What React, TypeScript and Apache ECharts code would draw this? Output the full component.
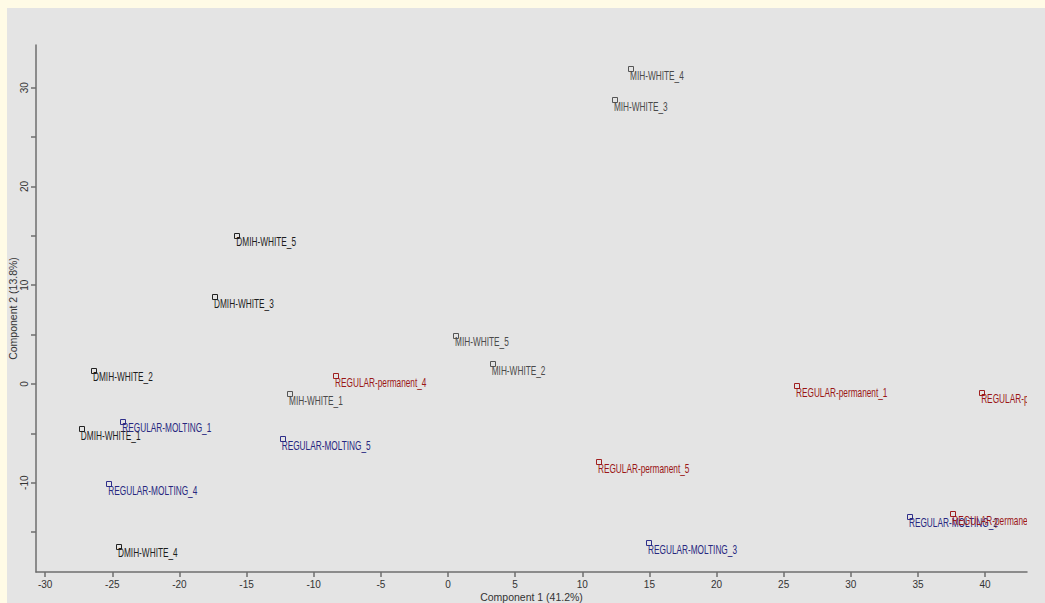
import React, { useEffect, useRef } from "react";
import * as echarts from "echarts";

// DMIH-WHITE samples
const dmihNames = ["DMIH-WHITE_1", "DMIH-WHITE_2", "DMIH-WHITE_3", "DMIH-WHITE_4", "DMIH-WHITE_5"];
const dmihX = [-27.27, -26.36, -17.35, -24.5, -15.69];
const dmihY = [-4.59, 1.35, 8.78, -16.47, 15.02];

// MIH-WHITE samples
const mihNames = ["MIH-WHITE_1", "MIH-WHITE_2", "MIH-WHITE_3", "MIH-WHITE_4", "MIH-WHITE_5"];
const mihX = [-11.76, 3.33, 12.43, 13.63, 0.6];
const mihY = [-1.05, 2.03, 28.76, 31.9, 4.89];

// REGULAR-MOLTING samples
const moltNames = ["REGULAR-MOLTING_1", "REGULAR-MOLTING_2", "REGULAR-MOLTING_3", "REGULAR-MOLTING_4", "REGULAR-MOLTING_5"];
const moltX = [-24.18, 34.4, 14.97, -25.22, -12.31];
const moltY = [-3.82, -13.43, -16.13, -10.16, -5.6];

// REGULAR-permanent samples
const permNames = ["REGULAR-permanent_1", "REGULAR-permanent_2", "REGULAR-permanent_3", "REGULAR-permanent_4", "REGULAR-permanent_5"];
const permX = [25.99, 39.78, 37.63, -8.34, 11.24];
const permY = [-0.2, -0.88, -13.2, 0.81, -7.9];

// Axes
const xTicks = [-30, -25, -20, -15, -10, -5, 0, 5, 10, 15, 20, 25, 30, 35, 40];
const yTicks = [-15, -10, -5, 0, 5, 10, 15, 20, 25, 30];
const yLabels = [-10, 0, 10, 20, 30];
const xTitle = "Component 1 (41.2%)";
const yTitle = "Component 2 (13.8%)";

const FONT = "'Liberation Sans', Arial, sans-serif";

function makeSeries(names: string[], xs: number[], ys: number[], markerColor: string, textColor: string) {
  return {
    type: "custom",
    clip: true,
    data: xs.map((x, i) => [x, ys[i]]),
    renderItem: (params: any, api: any) => {
      const p = api.coord([api.value(0), api.value(1)]);
      return {
        type: "group",
        children: [
          {
            type: "rect",
            shape: { x: Math.round(p[0]) - 2.5, y: Math.round(p[1]) - 2.5, width: 5, height: 5 },
            style: { fill: "none", stroke: markerColor, lineWidth: 1 },
          },
          {
            type: "text",
            x: p[0] - 1,
            y: p[1] + 6.5,
            scaleX: 0.69,
            style: {
              text: names[params.dataIndex],
              fontSize: 12,
              fontFamily: FONT,
              fill: textColor,
              align: "left",
              verticalAlign: "middle",
            },
          },
        ],
      };
    },
  };
}

export default function App() {
  const ref = useRef<HTMLDivElement>(null);
  useEffect(() => {
    if (!ref.current) return;
    const chart = echarts.init(ref.current, undefined, { renderer: "svg" });
    const axisColor = "#6e6e6e";
    chart.setOption({
      animation: false,
      backgroundColor: "#e4e4e4",
      grid: { left: 29, top: 37, right: 18, bottom: 31, containLabel: false, outerBoundsMode: "none" },
      xAxis: {
        type: "value",
        min: -30.68,
        max: 43.12,
        splitLine: { show: false },
        axisLine: { show: true, onZero: false, lineStyle: { color: axisColor, width: 1.5 } },
        axisTick: { show: true, length: 5, customValues: xTicks, lineStyle: { color: axisColor, width: 1.5 } },
        axisLabel: { customValues: xTicks, fontSize: 10, color: "#333", margin: 7, fontFamily: FONT },
        name: xTitle,
        nameLocation: "middle",
        nameGap: 19,
        nameMoveOverlap: false,
        nameTextStyle: { fontSize: 10.5, color: "#333", fontFamily: FONT },
      },
      yAxis: {
        type: "value",
        min: -19.04,
        max: 34.33,
        splitLine: { show: false },
        axisLine: { show: true, onZero: false, lineStyle: { color: axisColor, width: 1.5 } },
        axisTick: { show: true, length: 5, customValues: yTicks, lineStyle: { color: axisColor, width: 1.5 } },
        axisLabel: { customValues: yLabels, fontSize: 10, color: "#333", margin: 7, rotate: 90, fontFamily: FONT },
        name: yTitle,
        nameLocation: "middle",
        nameGap: 18,
        nameMoveOverlap: false,
        nameTextStyle: { fontSize: 10.5, color: "#333", fontFamily: FONT },
      },
      series: [
        makeSeries(dmihNames, dmihX, dmihY, "#222222", "#1c1c1c"),
        makeSeries(mihNames, mihX, mihY, "#555555", "#4a4a4a"),
        makeSeries(moltNames, moltX, moltY, "#2e2e8a", "#27277f"),
        makeSeries(permNames, permX, permY, "#a02020", "#9a1616"),
      ],
    });
    return () => chart.dispose();
  }, []);
  return (
    <div style={{ position: "fixed", left: 0, top: 0, width: 1045, height: 603, background: "#fffbe6" }}>
      <div ref={ref} style={{ position: "absolute", left: 7, top: 8, width: 1038, height: 595 }} />
    </div>
  );
}
